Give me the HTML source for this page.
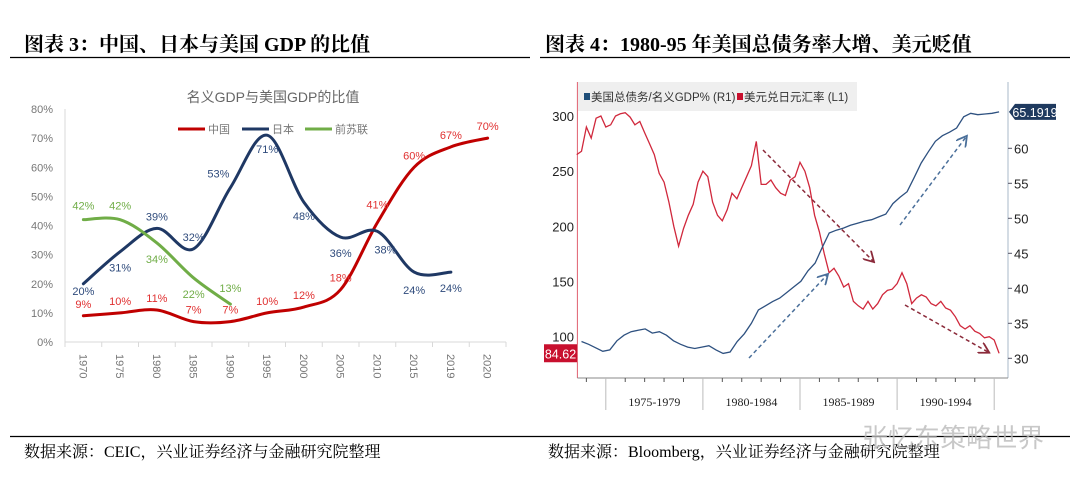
<!DOCTYPE html>
<html><head><meta charset="utf-8">
<style>
html,body{margin:0;padding:0;background:#fff;}
svg{display:block;}
.serif{font-family:"Liberation Serif","Noto Serif CJK SC",serif;}
.sans{font-family:"Liberation Sans","Noto Sans CJK SC",sans-serif;}
</style></head>
<body>
<svg id="root" width="1080" height="484" viewBox="0 0 1080 484" xmlns="http://www.w3.org/2000/svg">
  <text class="serif" x="24" y="51" font-size="20" font-weight="bold" fill="#000">图表 3：中国、日本与美国 GDP 的比值</text>
  <text class="serif" x="545" y="51" font-size="20" font-weight="bold" fill="#000">图表 4：1980-95 年美国总债务率大增、美元贬值</text>
  <line x1="10" y1="57.5" x2="530" y2="57.5" stroke="#000" stroke-width="1.2"/>
  <line x1="540" y1="57.5" x2="1070" y2="57.5" stroke="#000" stroke-width="1.2"/>
  <line x1="10" y1="436.5" x2="1070" y2="436.5" stroke="#000" stroke-width="1.2"/>
  <text class="serif" x="24" y="457" font-size="16" fill="#000">数据来源：CEIC，兴业证券经济与金融研究院整理</text>
  <text class="serif" x="548" y="457" font-size="16" fill="#000">数据来源：Bloomberg，兴业证券经济与金融研究院整理</text>
  <text class="sans" x="862" y="447" font-size="26" fill="#bbb" opacity="0.8">张忆东策略世界</text>

  <g id="left">
    <text class="sans" x="273" y="102" font-size="14" fill="#666" text-anchor="middle">名义GDP与美国GDP的比值</text>
  </g>
  <g id="right"></g>
</svg>
<script>
// ===== Left chart data =====
const years = ['1970','1975','1980','1985','1990','1995','2000','2005','2010','2015','2019','2020'];
const chinaVals = [9,10,11,7,7,10,12,18,41,60,67,70];
const japanVals = [20,31,39,32,53,71,48,36,38,24,24];
const ussrVals = [42,42,34,22,13];
const yTicks = [0,10,20,30,40,50,60,70,80];

// ===== Right chart data (quarterly from 1973.5) =====
const fxStart = 1973.5;
const fxVals = [265,268,290,280,298,300,290,292,300,302,303,299,292,295,285,275,265,248,240,222,200,182,198,210,220,240,250,245,222,210,205,215,230,225,235,245,255,277,238,238,242,235,230,228,242,245,258,250,235,210,195,175,158,162,155,145,148,132,128,125,132,125,130,138,142,143,148,158,148,130,135,138,136,130,128,132,126,124,118,110,107,110,105,103,99,100,97,85];
const debtStart = 1973.75;
const debtVals = [32.4,32.0,31.5,31.0,31.2,32.5,33.3,33.8,34.0,34.2,33.6,33.8,33.3,32.5,32.0,31.6,31.4,31.6,31.8,31.2,30.7,30.9,32.4,33.5,35.0,36.9,37.5,38.1,38.6,39.4,40.2,41.0,42.5,43.6,45.8,47.9,48.3,48.6,49.0,49.3,49.6,49.8,50.2,50.6,52.1,53.0,53.8,55.8,57.9,59.5,61.0,61.8,62.3,62.9,64.5,65.0,64.8,64.9,65.0,65.2];
const leftTicks = [100,150,200,250,300];
const rightTicks = [30,35,40,45,50,55,60];
const periodLabels = ['1975-1979','1980-1984','1985-1989','1990-1994'];

const NS='http://www.w3.org/2000/svg';
function mk(tag, attrs, parent, text){
  const e=document.createElementNS(NS,tag);
  for(const k in attrs) e.setAttribute(k,attrs[k]);
  if(text!==undefined) e.textContent=text;
  parent.appendChild(e); return e;
}
function smooth(pts){
  let d='M'+pts[0][0]+','+pts[0][1];
  for(let i=0;i<pts.length-1;i++){
    const p0=pts[i-1]||pts[i], p1=pts[i], p2=pts[i+1], p3=pts[i+2]||p2;
    const c1=[p1[0]+(p2[0]-p0[0])/6, p1[1]+(p2[1]-p0[1])/6];
    const c2=[p2[0]-(p3[0]-p1[0])/6, p2[1]-(p3[1]-p1[1])/6];
    d+=' C'+c1[0]+','+c1[1]+' '+c2[0]+','+c2[1]+' '+p2[0]+','+p2[1];
  }
  return d;
}

// ===== Left chart =====
(function(){
  const g=document.getElementById('left');
  const x0=65, x1=506, yB=342, yT=109;
  const band=(x1-x0)/years.length;
  const X=i=>x0+band*(i+0.5);
  const Y=v=>yB-(v/80)*(yB-yT);
  yTicks.forEach(t=>{
    const e=mk('text',{x:53,y:Y(t)+4,'font-size':11,fill:'#777','text-anchor':'end',class:'sans'},g,t+'%');
    
    
  });
  const ax=mk('line',{x1:x0,y1:yT,x2:x0,y2:yB,stroke:'#d9d9d9'},g);
  
  
  const bx=mk('line',{x1:x0,y1:yB,x2:x1,y2:yB,stroke:'#d9d9d9'},g);
  
  
  years.forEach((yr,i)=>{
    const tk=mk('line',{x1:x0+band*i,y1:yB,x2:x0+band*i,y2:yB+5,stroke:'#d9d9d9'},g);
    
    
    const t=mk('text',{x:0,y:0,'font-size':11,fill:'#777',class:'sans',transform:'translate('+(X(i)-4)+','+(yB+12)+') rotate(90)'},g,yr);
    
    
  });
  const lx=mk('line',{x1:x1,y1:yB,x2:x1,y2:yB+5,stroke:'#d9d9d9'},g);
  
  
  const series=[
    {name:'china',vals:chinaVals,color:'#c00000',lab:'#e03030',dy:[-12,-12,-12,-12,-12,-12,-12,-12,-18,-12,-12,-12],dx:[0,0,0,0,0,0,0,0,0,0,0,0]},
    {name:'japan',vals:japanVals,color:'#1f3864',lab:'#2f4b7c',dy:[7,16,-12,-12,-14,14,14,16,18,18,16],dx:[0,0,0,0,-12,0,0,0,8,0,0]},
    {name:'ussr',vals:ussrVals,color:'#70ad47',lab:'#70ad47',dy:[-14,-14,16,16,-16],dx:[0,0,0,0,0]}
  ];
  series.forEach(s=>{
    const pts=s.vals.map((v,i)=>[X(i),Y(v)]);
    const p=mk('path',{d:smooth(pts),fill:'none',stroke:s.color,'stroke-width':3,'stroke-linecap':'round'},g);
    
    
  });
  series.forEach(s=>{
    s.vals.forEach((v,i)=>{
      const t=mk('text',{x:X(i)+s.dx[i],y:Y(v)+s.dy[i]+4,'font-size':11,fill:s.lab,'text-anchor':'middle',class:'sans'},g,v+'%');
      
      
    });
  });
  const leg=[['中国','#c00000',178],['日本','#1f3864',242],['前苏联','#70ad47',305]];
  leg.forEach(l=>{
    const ln=mk('line',{x1:l[2],y1:129,x2:l[2]+27,y2:129,stroke:l[1],'stroke-width':3},g);
    
    
    const t=mk('text',{x:l[2]+30,y:133,'font-size':11,fill:'#777',class:'sans'},g,l[0]);
    
    
  });
})();

// ===== Right chart =====
(function(){
  const g=document.getElementById('right');
  const xL=577.4, xR=1008, yB=378;
  const T=t=>605.8+(t-1975)*19.42;
  const YL=v=>336.7-(v-100)*(220.7/200);
  const YR=v=>358.3-(v-30)*(210/30);
  const la=mk('line',{x1:xL,y1:82,x2:xL,y2:yB,stroke:'#e06070'},g);
  
  
  const ra=mk('line',{x1:xR,y1:82,x2:xR,y2:yB,stroke:'#aab8c8'},g);
  
  
  const ba=mk('line',{x1:xL,y1:yB,x2:xR,y2:yB,stroke:'#888'},g);
  
  
  leftTicks.forEach(v=>{
    const t=mk('text',{x:574,y:YL(v)+5,'font-size':13,fill:'#222','text-anchor':'end',class:'sans'},g,v);
    
    
  });
  rightTicks.forEach(v=>{
    const tk=mk('line',{x1:xR,y1:YR(v),x2:xR+4,y2:YR(v),stroke:'#556'},g);
    
    
    const t=mk('text',{x:xR+6,y:YR(v)+5,'font-size':13,fill:'#222',class:'sans'},g,v);
    
    
  });
  for(let y=1974;y<=1995;y++){
    const big=(y%5===0);
    const tk=mk('line',{x1:T(y),y1:yB,x2:T(y),y2:big?410:382,stroke:big?'#bbb':'#555'},g);
    
    
  }
  periodLabels.forEach((p,i)=>{
    const t=mk('text',{x:T(1977.5+5*i),y:406,'font-size':12,fill:'#222','text-anchor':'middle',class:'serif'},g,p);
    
    
  });
  const lb=mk('rect',{x:578,y:82,width:279,height:29,fill:'#efefef'},g);
  
  
  const s1=mk('rect',{x:584,y:93,width:6,height:7,fill:'#1f4e79'},g);
  
  
  const l1=mk('text',{x:591,y:101,'font-size':11.5,fill:'#333',class:'sans'},g,'美国总债务/名义GDP% (R1)');
  
  
  const s2=mk('rect',{x:737,y:93,width:6,height:7,fill:'#c8102e'},g);
  
  
  const l2=mk('text',{x:744,y:101,'font-size':11.5,fill:'#333',class:'sans'},g,'美元兑日元汇率 (L1)');
  
  
  const fxPts=fxVals.map((v,i)=>T(fxStart+i*0.25).toFixed(1)+','+YL(v).toFixed(1)).join(' ');
  const fl=mk('polyline',{points:fxPts,fill:'none',stroke:'#d0283c','stroke-width':1.3},g);
  
  
  const dPts=debtVals.map((v,i)=>T(debtStart+i*(1995.25-debtStart)/(debtVals.length-1)).toFixed(1)+','+YR(v).toFixed(1)).join(' ');
  const dl=mk('polyline',{points:dPts,fill:'none',stroke:'#2e5180','stroke-width':1.3},g);
  
  
  const defs=mk('defs',{},g);
  [['ar','#8b2a3a'],['ab','#4a6f9a']].forEach(a=>{
    const m=mk('marker',{id:a[0],markerWidth:8,markerHeight:8,refX:6,refY:4,orient:'auto'},defs);
    mk('path',{d:'M0,0 L7,4 L0,8',fill:'none',stroke:a[1],'stroke-width':1.2},m);
  });
  [[763,150,873,261,'ar','#8b2a3a'],[905,305,988,352,'ar','#8b2a3a'],[749,358,827,275,'ab','#4a6f9a'],[900,225,966,137,'ab','#4a6f9a']].forEach(a=>{
    const l=mk('line',{x1:a[0],y1:a[1],x2:a[2],y2:a[3],stroke:a[5],'stroke-width':1.5,'stroke-dasharray':'4,3','marker-end':'url(#'+a[4]+')'},g);
    
    
  });
  const lastFx=fxVals[fxVals.length-1];
  const tf=mk('rect',{x:544,y:YL(lastFx)-9,width:33,height:18,fill:'#c8102e'},g);
  
  
  const tft=mk('text',{x:560.5,y:YL(lastFx)+5,'font-size':12.5,fill:'#fff','text-anchor':'middle',class:'sans'},g,'84.62');
  
  
  const lastD=debtVals[debtVals.length-1];
  const tdy=YR(lastD);
  const td=mk('path',{d:'M1009,'+tdy+' L1015,'+(tdy-8)+' L1056,'+(tdy-8)+' L1056,'+(tdy+8)+' L1015,'+(tdy+8)+' Z',fill:'#1f3a5f'},g);
  
  
  const tdt=mk('text',{x:1035,y:tdy+5,'font-size':12.5,fill:'#fff','text-anchor':'middle',class:'sans'},g,'65.1919');
  
  
})();
</script>
</body></html>
